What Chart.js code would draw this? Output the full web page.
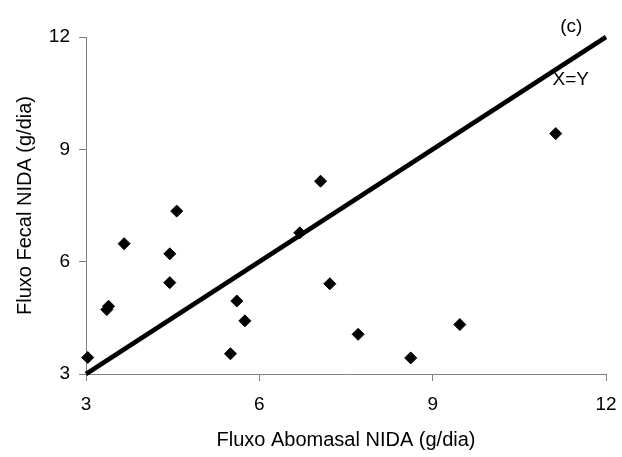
<!DOCTYPE html>
<html>
<head>
<meta charset="utf-8">
<script src="https://cdn.jsdelivr.net/npm/chart.js@4/dist/chart.umd.min.js"></script>
<style>
  html, body { margin: 0; padding: 0; background: #fff; }
  #wrap { width: 622px; height: 457px; position: relative; }
</style>
</head>
<body>
<div id="wrap"><canvas id="fluxChart"></canvas></div>
<script>
// Abomasal vs fecal NIDA flow (g/dia), one point per animal/period
const abomasalFlow = [3.03, 3.36, 3.39, 3.66, 4.45, 4.45, 4.57, 5.50, 5.61, 5.75, 6.70, 7.06, 7.22, 7.71, 8.62, 9.47, 11.13];
const fecalFlow    = [3.44, 4.72, 4.81, 6.48, 6.21, 5.44, 7.35, 3.54, 4.95, 4.42, 6.77, 8.15, 5.41, 4.06, 3.43, 4.32, 9.42];

// identity line ends
const identityLine = [3, 12];
const axisTicks = [3, 6, 9, 12];

const panelLabel = '(c)';
const lineLabel = 'X=Y';

const FONT = 'Liberation Sans, Arial, sans-serif';

// draws the panel letter and the X=Y tag near the top right
const notesPlugin = {
    id: 'notes',
    afterDatasetsDraw(chart) {
        const { ctx, scales: { x, y } } = chart;
        ctx.save();
        ctx.fillStyle = '#000';
        ctx.font = '19px ' + FONT;
        ctx.textAlign = 'center';
        ctx.textBaseline = 'middle';
        ctx.fillText(panelLabel, x.getPixelForValue(11.40), y.getPixelForValue(12.27));
        ctx.fillText(lineLabel, x.getPixelForValue(11.39), y.getPixelForValue(10.87));
        ctx.restore();
    }
};

const whiteBg = {
    id: 'whiteBg',
    beforeDraw(chart) {
        const { ctx, width, height } = chart;
        ctx.save();
        ctx.fillStyle = '#fff';
        ctx.fillRect(0, 0, width, height);
        ctx.restore();
    }
};

const ctx = document.getElementById('fluxChart').getContext('2d');
new Chart(ctx, {
    type: 'scatter',
    data: {
        datasets: [{
            label: lineLabel,
            type: 'line',
            data: identityLine.map(v => ({ x: v, y: v })),
            borderColor: '#000',
            borderWidth: 4.5,
            borderCapStyle: 'butt',
            pointRadius: 0,
            fill: false,
            clip: false,
            order: 1
        }, {
            label: 'NIDA',
            data: abomasalFlow.map((v, i) => ({ x: v, y: fecalFlow[i] })),
            pointStyle: 'rectRot',
            pointRadius: 6,
            backgroundColor: '#000',
            borderColor: '#000',
            borderWidth: 1,
            clip: false,
            order: 0
        }]
    },
    options: {
        responsive: true,
        maintainAspectRatio: false,
        animation: false,
        layout: { padding: { top: 37, right: 16, left: 0, bottom: 0 } },
        plugins: {
            legend: { display: false },
            tooltip: { enabled: false }
        },
        scales: {
            x: {
                type: 'linear',
                min: 3,
                max: 12,
                afterBuildTicks: s => { s.ticks = axisTicks.map(v => ({ value: v })); },
                afterFit: s => { s.height = 83; s.paddingLeft = 0; s.paddingRight = 0; },
                grid: { drawOnChartArea: false, drawTicks: true, tickLength: 7, color: '#808080' },
                border: { display: true, color: '#808080', width: 1 },
                ticks: { color: '#000', padding: 12, font: { family: FONT, size: 19 } },
                title: {
                    display: true,
                    text: 'Fluxo Abomasal NIDA (g/dia)',
                    color: '#000',
                    font: { family: FONT, size: 20 },
                    padding: { top: 0, bottom: 5 }
                }
            },
            y: {
                type: 'linear',
                min: 3,
                max: 12,
                afterBuildTicks: s => { s.ticks = axisTicks.map(v => ({ value: v })); },
                afterFit: s => { s.width = 86; s.paddingTop = 0; s.paddingBottom = 0; },
                grid: { drawOnChartArea: false, drawTicks: true, tickLength: 7, color: '#808080' },
                border: { display: true, color: '#808080', width: 1 },
                ticks: { color: '#000', padding: 9, font: { family: FONT, size: 19 } },
                title: {
                    display: true,
                    text: 'Fluxo Fecal NIDA (g/dia)',
                    color: '#000',
                    font: { family: FONT, size: 20 },
                    padding: { top: 13, bottom: 0 }
                }
            }
        }
    },
    plugins: [whiteBg, notesPlugin]
});
</script>
</body>
</html>
